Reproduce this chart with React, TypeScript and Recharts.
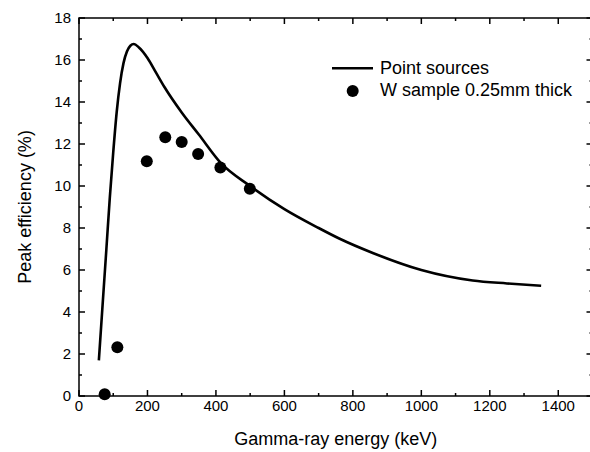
import { ComposedChart, Legend, Line, ReferenceArea, ReferenceLine, Scatter, XAxis, YAxis } from 'recharts';

const curveEnergy = [58, 70, 80, 90, 100, 110, 120, 130, 140, 150, 160, 175, 200, 225, 250, 300, 350, 414, 500, 600, 700, 760, 860, 1000, 1150, 1250, 1350];
const curveEff = [1.7, 4.6, 7.0, 9.45, 11.6, 13.5, 14.9, 15.85, 16.4, 16.68, 16.76, 16.6, 16.1, 15.4, 14.7, 13.5, 12.45, 11.1, 10.0, 8.9, 8.0, 7.5, 6.8, 6.0, 5.5, 5.36, 5.25];

const sampleEnergy = [75, 112, 198, 252, 300, 348, 413, 499];
const sampleEff = [0.08, 2.32, 11.18, 12.32, 12.1, 11.52, 10.88, 9.87];

const xTicks = [0, 100, 200, 300, 400, 500, 600, 700, 800, 900, 1000, 1100, 1200, 1300, 1400, 1500];
const xLabels = [0, 200, 400, 600, 800, 1000, 1200, 1400];
const yTicks = [0, 1, 2, 3, 4, 5, 6, 7, 8, 9, 10, 11, 12, 13, 14, 15, 16, 17, 18];
const yLabels = [0, 2, 4, 6, 8, 10, 12, 14, 16, 18];

const curve = curveEnergy.map((energy, i) => ({ energy, eff: curveEff[i] }));
const sample = sampleEnergy.map((energy, i) => ({ energy, eff: sampleEff[i] }));

const FONT = '"Liberation Sans", Arial, sans-serif';
const MAJOR = 6;
const MINOR = 3;
const Y_OFF = 8; // default tickSize + tickMargin
// px per data unit, used for the top/right tick segments
const PX_PER_Y = 378 / 18;
const PX_PER_X = 513.5 / 1500;

if (typeof document !== 'undefined') document.body.style.margin = '0';

const seg = (p: any) => (
  <path d={`M${p.x1},${p.y1}L${p.x2},${p.y2}`} stroke="#000" strokeWidth={1.5} fill="none" />
);

function BottomTick({ x, y, payload }: any) {
  const v = payload.value;
  const len = v % 200 === 0 ? MAJOR : MINOR;
  return (
    <g>
      <path d={`M${x},${y}V${y - len}`} stroke="#000" strokeWidth={1.5} fill="none" />
      {xLabels.includes(v) && (
        <text x={x} y={y + 15} textAnchor="middle" fontSize={15} fontFamily={FONT} fill="#000">
          {v}
        </text>
      )}
    </g>
  );
}

function LeftTick({ x, y, payload }: any) {
  const v = payload.value;
  const ax = x + Y_OFF;
  const len = v % 2 === 0 ? MAJOR : MINOR;
  return (
    <g>
      <path d={`M${ax},${y}H${ax + len}`} stroke="#000" strokeWidth={1.5} fill="none" />
      {yLabels.includes(v) && (
        <text x={ax - 8} y={y} dy="0.36em" textAnchor="end" fontSize={15} fontFamily={FONT} fill="#000">
          {v}
        </text>
      )}
    </g>
  );
}

function LegendBox() {
  return (
    <svg width={270} height={50} style={{ display: 'block' }}>
      <path d="M7,13.3H48" stroke="#000" strokeWidth={2.6} />
      <text x={55} y={19} fontSize={18} fontFamily={FONT} fill="#000">Point sources</text>
      <circle cx={27.7} cy={36} r={6} fill="#000" />
      <text x={55} y={41} fontSize={18} fontFamily={FONT} fill="#000">W sample 0.25mm thick</text>
    </svg>
  );
}

export default function App() {
  return (
    <div style={{ width: 590, height: 452, overflow: 'hidden' }}>
      <ComposedChart width={600} height={452} margin={{ top: 18, right: 7.5, bottom: 0, left: 0 }}>
        <XAxis
          dataKey="energy"
          type="number"
          domain={[0, 1500]}
          ticks={xTicks}
          interval={0}
          height={56}
          tickSize={0}
          tickMargin={0}
          tick={BottomTick}
          axisLine={false}
          label={({ viewBox }: any) => (
            <text
              x={viewBox.x + viewBox.width / 2}
              y={445}
              textAnchor="middle"
              fontSize={18}
              fontFamily={FONT}
              fill="#000"
            >
              Gamma-ray energy (keV)
            </text>
          )}
        />
        <YAxis
          type="number"
          domain={[0, 18]}
          ticks={yTicks}
          interval={0}
          width={79}
          tickLine={{ stroke: 'none' }}
          tick={LeftTick}
          axisLine={false}
          label={({ viewBox }: any) => {
            const cy = viewBox.y + viewBox.height / 2;
            return (
              <text
                x={31}
                y={cy}
                transform={`rotate(-90 31 ${cy})`}
                textAnchor="middle"
                fontSize={18}
                fontFamily={FONT}
                fill="#000"
              >
                Peak efficiency (%)
              </text>
            );
          }}
        />
        <ReferenceArea x1={0} x2={1500} y1={0} y2={18} fill="none" fillOpacity={0} stroke="#000" strokeWidth={1.5} />
        {xTicks.map((v) => (
          <ReferenceLine
            key={`t${v}`}
            segment={[
              { x: v, y: 18 },
              { x: v, y: 18 - (v % 200 === 0 ? MAJOR : MINOR) / PX_PER_Y },
            ]}
            shape={seg}
          />
        ))}
        {yTicks.map((v) => (
          <ReferenceLine
            key={`r${v}`}
            segment={[
              { x: 1500, y: v },
              { x: 1500 - (v % 2 === 0 ? MAJOR : MINOR) / PX_PER_X, y: v },
            ]}
            shape={seg}
          />
        ))}
        <Legend
          layout="vertical"
          align="center"
          verticalAlign="middle"
          wrapperStyle={{ left: 325, top: 55, width: 270 }}
          content={() => <LegendBox />}
        />
        <Line
          data={curve}
          dataKey="eff"
          name="Point sources"
          type="monotone"
          stroke="#000"
          strokeWidth={2.6}
          dot={false}
          activeDot={false}
          isAnimationActive={false}
        />
        <Scatter
          data={sample}
          dataKey="eff"
          name="W sample 0.25mm thick"
          fill="#000"
          shape={(p: any) => <circle cx={p.cx} cy={p.cy} r={6} fill="#000" />}
          isAnimationActive={false}
        />
      </ComposedChart>
    </div>
  );
}
